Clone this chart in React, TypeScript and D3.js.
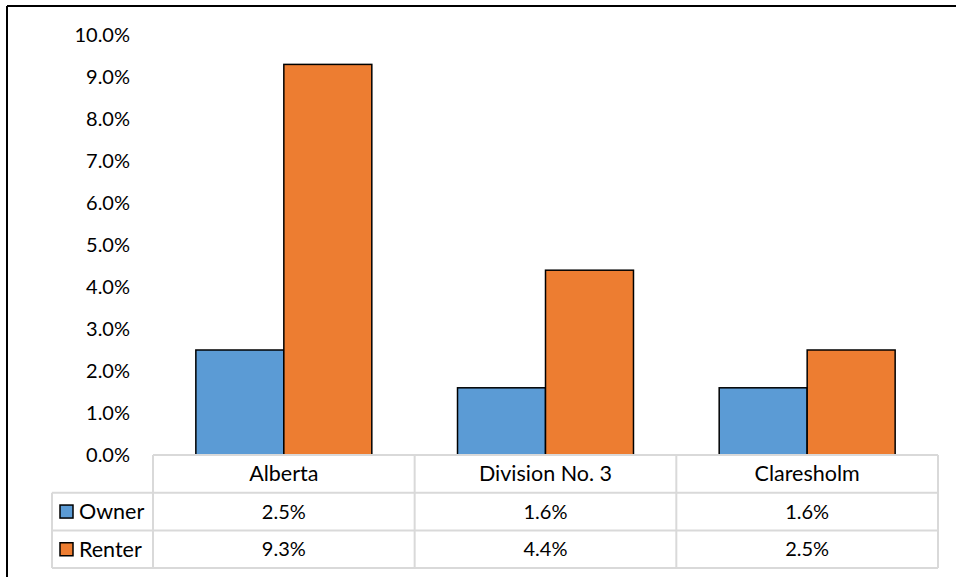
import React from "react";
import * as d3 from "d3";

const categories = ["Alberta", "Division No. 3", "Claresholm"];
const seriesNames = ["Owner", "Renter"];
const ownerValues = [2.5, 1.6, 1.6];
const renterValues = [9.3, 4.4, 2.5];
const yTicks = [0, 1, 2, 3, 4, 5, 6, 7, 8, 9, 10];
const colors = ["#5B9BD5", "#ED7D31"];

export default function App() {
  const W = 956, H = 577;
  const plotLeft = 153, plotRight = 938;
  const yTop = 35, yBottom = 455;
  const legendLeft = 52;
  const rowH = 37.7;
  const font = "Lato, 'Liberation Sans', Arial, sans-serif";
  const fs = 20;
  const fsText = 21.5;

  const x = d3.scaleBand<string>().domain(categories).range([plotLeft, plotRight]).paddingInner(0).paddingOuter(0);
  const inner = d3.scaleBand<string>().domain(seriesNames).range([0, x.bandwidth()]).paddingInner(0).paddingOuter(0.487);
  const y = d3.scaleLinear().domain([0, 10]).range([yBottom, yTop]);
  const series = [ownerValues, renterValues];
  const grid = "#d9d9d9";

  const rows = [yBottom, yBottom + rowH, yBottom + 2 * rowH, yBottom + 3 * rowH];

  return (
    <svg width={W} height={H} style={{ position: "absolute", left: 0, top: 0, background: "#fff" }} fontFamily={font}>
      <rect x={0} y={0} width={W} height={H} fill="#fff" />
      {/* outer frame */}
      <line x1={7} x2={W} y1={6} y2={6} stroke="#000" strokeWidth={2} />
      <line x1={7} x2={7} y1={6} y2={H} stroke="#000" strokeWidth={2} />

      {/* y-axis labels */}
      {yTicks.map((t) => (
        <text key={t} x={130} y={y(t)} dy="0.35em" textAnchor="end" fontSize={fs} fill="#000">
          {t.toFixed(1) + "%"}
        </text>
      ))}

      {/* bars */}
      {categories.map((c, i) => (
        <g key={c}>
          {seriesNames.map((s, j) => (
            <rect
              key={s}
              x={(x(c) as number) + (inner(s) as number)}
              y={y(series[j][i])}
              width={inner.bandwidth()}
              height={yBottom - y(series[j][i])}
              fill={colors[j]}
              stroke="#000"
              strokeWidth={1.5}
            />
          ))}
        </g>
      ))}

      {/* data table */}
      <g stroke={grid} strokeWidth={2} fill="none">
        <line x1={plotLeft} x2={plotRight} y1={rows[0]} y2={rows[0]} />
        <line x1={legendLeft} x2={plotRight} y1={rows[1]} y2={rows[1]} />
        <line x1={legendLeft} x2={plotRight} y1={rows[2]} y2={rows[2]} />
        <line x1={legendLeft} x2={plotRight} y1={rows[3]} y2={rows[3]} />
        <line x1={legendLeft} x2={legendLeft} y1={rows[1]} y2={rows[3]} />
        {[...categories.map((c) => x(c) as number), plotRight].map((xx, k) => (
          <line key={k} x1={xx} x2={xx} y1={rows[0]} y2={rows[3]} />
        ))}
      </g>
      {categories.map((c) => (
        <text key={c} x={(x(c) as number) + x.bandwidth() / 2} y={(rows[0] + rows[1]) / 2} dy="0.35em" textAnchor="middle" fontSize={fsText}>
          {c}
        </text>
      ))}
      {seriesNames.map((s, j) => (
        <g key={s}>
          <rect x={60} y={(rows[j + 1] + rows[j + 2]) / 2 - 6.5} width={13} height={13} fill={colors[j]} stroke="#000" strokeWidth={1.5} />
          <text x={79} y={(rows[j + 1] + rows[j + 2]) / 2} dy="0.35em" fontSize={fsText}>{s}</text>
          {categories.map((c, i) => (
            <text key={c} x={(x(c) as number) + x.bandwidth() / 2} y={(rows[j + 1] + rows[j + 2]) / 2} dy="0.35em" textAnchor="middle" fontSize={fs}>
              {series[j][i].toFixed(1) + "%"}
            </text>
          ))}
        </g>
      ))}
    </svg>
  );
}
